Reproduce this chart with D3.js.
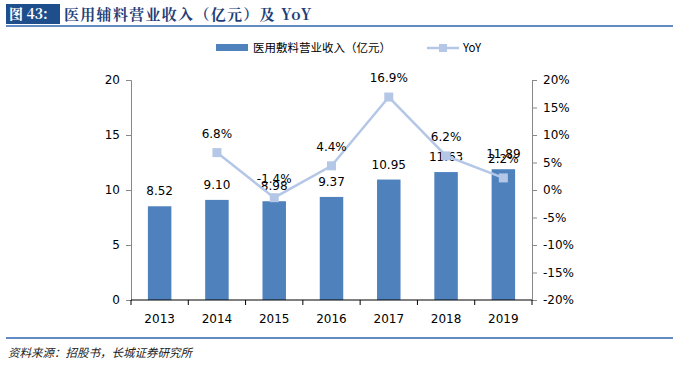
<!DOCTYPE html>
<html>
<head>
<meta charset="utf-8">
<script src="https://cdn.jsdelivr.net/npm/d3@7"></script>
<style>
  body { margin: 0; background: #fff; }
  svg { display: block; }
</style>
</head>
<body>
<svg id="chart" width="680" height="366"></svg>
<script>
const years = ["2013", "2014", "2015", "2016", "2017", "2018", "2019"];
const revenue = [8.52, 9.10, 8.98, 9.37, 10.95, 11.63, 11.89];
const yoy = [null, 6.8, -1.4, 4.4, 16.9, 6.2, 2.2];
const leftTicks = [0, 5, 10, 15, 20];
const rightTicks = [-20, -15, -10, -5, 0, 5, 10, 15, 20];

const svg = d3.select("#chart");
const font = "'Noto Sans CJK SC', sans-serif";
const numFont = "'DejaVu Sans', Verdana, sans-serif";

// title bar
svg.append("rect").attr("x", 6).attr("y", 4).attr("width", 54).attr("height", 20).attr("fill", "#1F4E8C");
svg.append("text").attr("x", 9).attr("y", 19).attr("fill", "#fff")
  .attr("font-family", "'Noto Serif CJK SC', 'Liberation Serif', serif").attr("font-weight", "bold")
  .attr("font-size", 14).text("图 43:");
svg.append("text").attr("x", 64).attr("y", 19.5).attr("fill", "#1F3F7A")
  .attr("font-family", "'Noto Serif CJK SC', 'Noto Sans CJK SC', serif").attr("font-weight", "bold")
  .attr("font-size", 15).attr("letter-spacing", 1.3).text("医用辅料营业收入（亿元）及 YoY");
svg.append("line").attr("x1", 6).attr("x2", 673).attr("y1", 26).attr("y2", 26)
  .attr("stroke", "#2E63B0").attr("stroke-width", 1.5);

// footer
svg.append("line").attr("x1", 6).attr("x2", 673).attr("y1", 338).attr("y2", 338)
  .attr("stroke", "#2E63B0").attr("stroke-width", 1.5);
svg.append("text").attr("x", 8).attr("y", 357).attr("fill", "#222")
  .attr("font-family", font).attr("font-style", "italic").attr("font-size", 11.5)
  .text("资料来源：招股书，长城证券研究所");

const margin = { left: 131, right: 148, top: 80, bottom: 66 };
const width = 680 - margin.left - margin.right;
const height = 366 - margin.top - margin.bottom;

const x = d3.scaleBand().domain(years).range([0, width]).paddingInner(0.59).paddingOuter(0.295);
const xPoint = (d) => x(d) + x.bandwidth() / 2;
const yL = d3.scaleLinear().domain([0, 20]).range([height, 0]);
const yR = d3.scaleLinear().domain([-20, 20]).range([height, 0]);

const g = svg.append("g").attr("transform", `translate(${margin.left},${margin.top})`);

// bars
g.selectAll(".bar").data(years).enter().append("rect")
  .attr("x", (d) => x(d)).attr("width", x.bandwidth())
  .attr("y", (d, i) => yL(revenue[i])).attr("height", (d, i) => height - yL(revenue[i]))
  .attr("fill", "#4F81BD");

g.selectAll(".barLabel").data(years).enter().append("text")
  .attr("x", xPoint).attr("y", (d, i) => yL(revenue[i]) - 11)
  .attr("text-anchor", "middle").attr("font-family", numFont).attr("font-size", 12).attr("fill", "#000")
  .text((d, i) => revenue[i].toFixed(2));

// left axis
const leftAxis = g.append("g").call(d3.axisLeft(yL).tickValues(leftTicks).tickSize(5).tickPadding(6));
leftAxis.select(".domain").attr("stroke", "#888");
leftAxis.selectAll("line").attr("stroke", "#888");
leftAxis.selectAll("text").attr("font-family", numFont).attr("font-size", 12).attr("fill", "#000");

// right axis
const rightAxis = g.append("g").attr("transform", `translate(${width},0)`)
  .call(d3.axisRight(yR).tickValues(rightTicks).tickSize(5).tickPadding(6).tickFormat((d) => d + "%"));
rightAxis.select(".domain").attr("stroke", "#888");
rightAxis.selectAll("line").attr("stroke", "#888");
rightAxis.selectAll("text").attr("font-family", numFont).attr("font-size", 12).attr("fill", "#000");

// bottom axis
const bandTicks = d3.range(years.length + 1).map((i) => i * x.step());
g.append("line").attr("x1", 0).attr("x2", width).attr("y1", height).attr("y2", height).attr("stroke", "#000");
g.selectAll(".xtick").data(bandTicks).enter().append("line")
  .attr("x1", (d) => d).attr("x2", (d) => d).attr("y1", height).attr("y2", height + 5).attr("stroke", "#000");
g.selectAll(".xlabel").data(years).enter().append("text")
  .attr("x", xPoint).attr("y", height + 23).attr("text-anchor", "middle")
  .attr("font-family", numFont).attr("font-size", 12).attr("fill", "#000").text((d) => d);

// YoY line
const pts = years.map((d, i) => ({ year: d, v: yoy[i] })).filter((d) => d.v !== null);
const line = d3.line().x((d) => xPoint(d.year)).y((d) => yR(d.v));
g.append("path").datum(pts).attr("d", line).attr("fill", "none")
  .attr("stroke", "#B4C7E7").attr("stroke-width", 2.5);
g.selectAll(".marker").data(pts).enter().append("rect")
  .attr("x", (d) => xPoint(d.year) - 4.5).attr("y", (d) => yR(d.v) - 4.5)
  .attr("width", 9).attr("height", 9).attr("fill", "#B4C7E7");
g.selectAll(".yoyLabel").data(pts).enter().append("text")
  .attr("x", (d) => xPoint(d.year)).attr("y", (d) => yR(d.v) - 15)
  .attr("text-anchor", "middle").attr("font-family", numFont).attr("font-size", 12).attr("fill", "#000")
  .text((d) => d.v.toFixed(1) + "%");

// legend
const lg = svg.append("g").attr("transform", "translate(216,48)");
lg.append("rect").attr("x", 0).attr("y", -4).attr("width", 32).attr("height", 7).attr("fill", "#4F81BD");
lg.append("text").attr("x", 37).attr("y", 4).attr("font-family", font).attr("font-size", 11.5).attr("fill", "#000")
  .text("医用敷料营业收入（亿元）");
lg.append("line").attr("x1", 211).attr("x2", 243).attr("y1", 0).attr("y2", 0).attr("stroke", "#B4C7E7").attr("stroke-width", 2.5);
lg.append("rect").attr("x", 223).attr("y", -4).attr("width", 8).attr("height", 8).attr("fill", "#B4C7E7");
lg.append("text").attr("x", 247).attr("y", 4).attr("font-family", font).attr("font-size", 11.5).attr("fill", "#000").text("YoY");
</script>
</body>
</html>
